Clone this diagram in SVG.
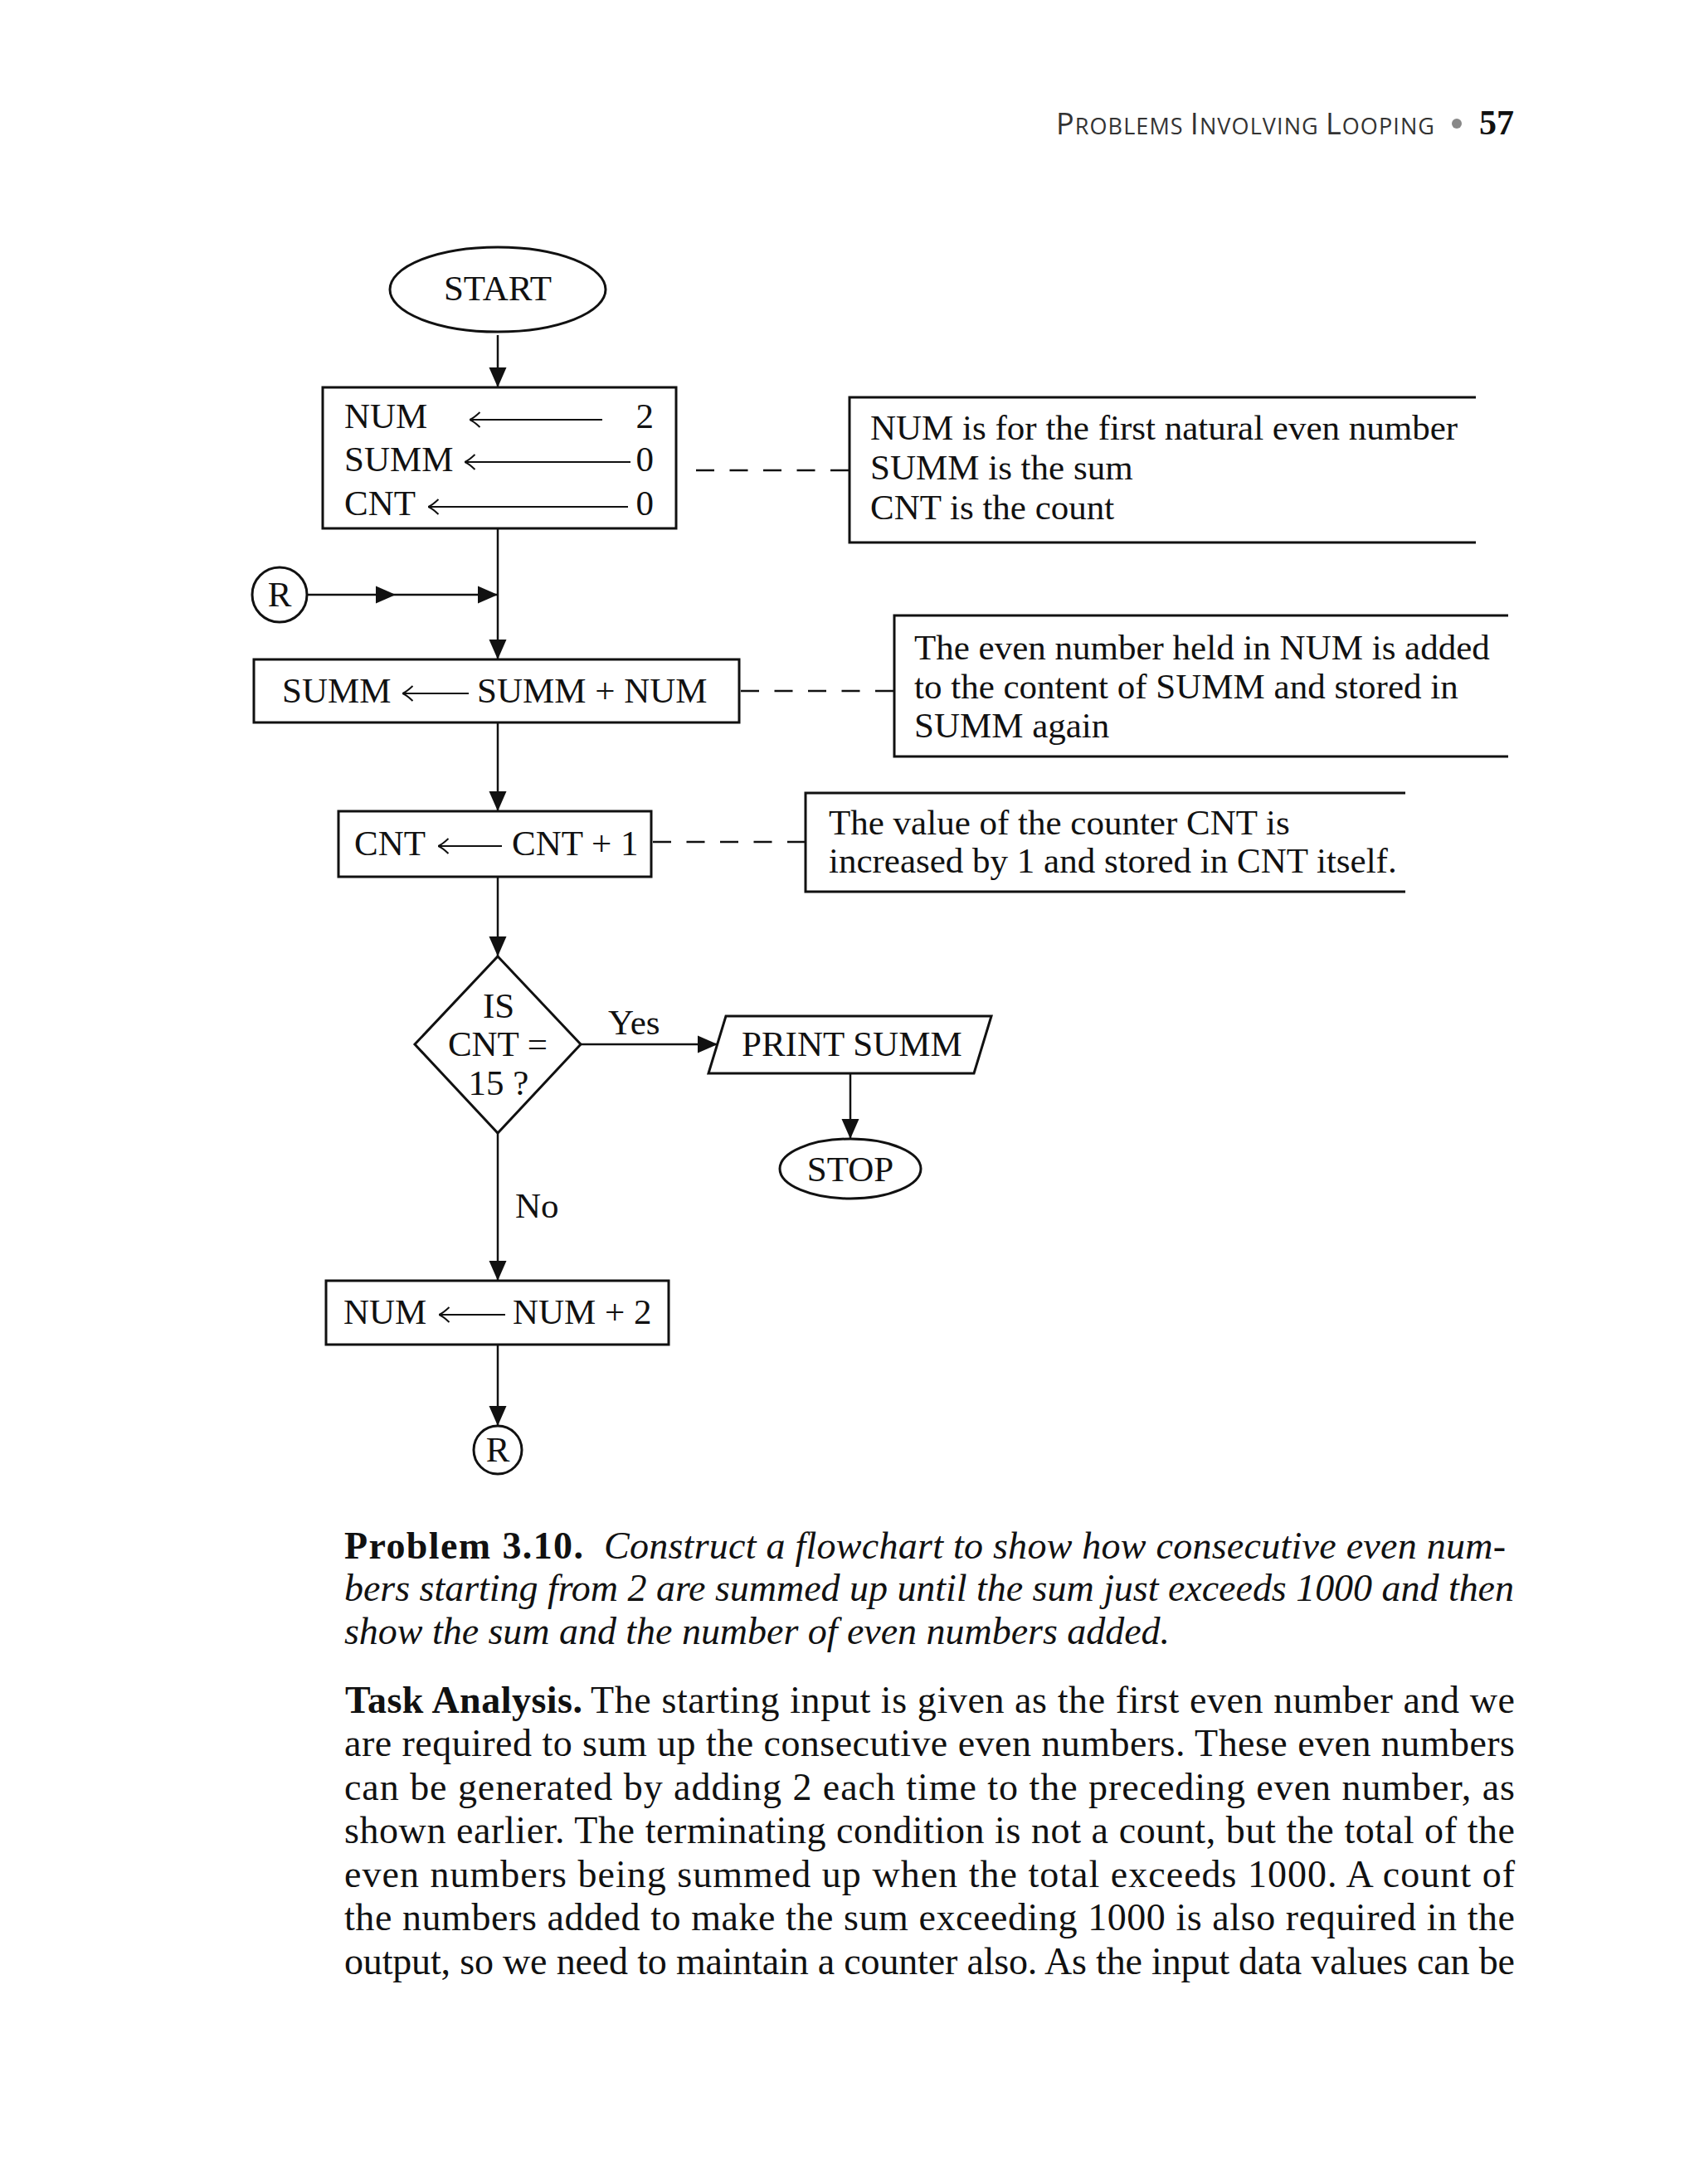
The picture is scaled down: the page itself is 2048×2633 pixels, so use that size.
<svg xmlns="http://www.w3.org/2000/svg" width="2048" height="2633" viewBox="0 0 2048 2633">
<style>
.ln{stroke:#111;stroke-width:2.5;fill:none}
.box{fill:#fff;stroke:#111;stroke-width:3}
.note{fill:none;stroke:#111;stroke-width:3}
.dash{stroke:#111;stroke-width:2.5;fill:none;stroke-dasharray:22 18.5}
.asg{stroke:#111;stroke-width:2;fill:none}
.t{font-family:"Liberation Serif",serif;font-size:43px;fill:#111}
.c{text-anchor:middle}
.e{text-anchor:end}
.body{font-family:"Liberation Serif",serif;font-size:46px;fill:#111}
.b{font-weight:bold}
.i{font-style:italic}
</style>
<defs>
<marker id="ah" markerUnits="userSpaceOnUse" markerWidth="24" markerHeight="24" viewBox="0 0 24 24" refX="24" refY="12" orient="auto">
<path d="M0,1.5 L24,12 L0,22.5 z" fill="#111"/>
</marker>
<marker id="oa" markerUnits="userSpaceOnUse" markerWidth="14" markerHeight="20" viewBox="0 0 14 20" refX="13.5" refY="10" orient="auto">
<path d="M1,1 Q9,8.5 13.5,10 Q9,11.5 1,19" fill="none" stroke="#111" stroke-width="2"/>
</marker>
</defs>
<rect width="2048" height="2633" fill="#fff"/>

<g id="header">
<text x="1273" y="162" font-family="'Open Sans',sans-serif" fill="#333" textLength="456" lengthAdjust="spacing"><tspan font-size="36">P</tspan><tspan font-size="27">ROBLEMS </tspan><tspan font-size="36">I</tspan><tspan font-size="27">NVOLVING </tspan><tspan font-size="36">L</tspan><tspan font-size="27">OOPING</tspan></text>
<circle cx="1756" cy="149" r="6" fill="#888"/>
<text x="1783" y="162" font-family="'Liberation Serif',serif" font-weight="bold" font-size="42" fill="#111">57</text>
</g>

<g id="connectors">
<path class="ln" d="M600,404 V467" marker-end="url(#ah)"/>
<path class="ln" d="M600,637 V795" marker-end="url(#ah)"/>
<path class="ln" d="M370,717 H477" marker-end="url(#ah)"/>
<path class="ln" d="M477,717 H600" marker-end="url(#ah)"/>
<path class="ln" d="M600,871 V978" marker-end="url(#ah)"/>
<path class="ln" d="M600,1057 V1153" marker-end="url(#ah)"/>
<path class="ln" d="M700,1259 H865" marker-end="url(#ah)"/>
<path class="ln" d="M1025,1294 V1373" marker-end="url(#ah)"/>
<path class="ln" d="M600,1366 V1544" marker-end="url(#ah)"/>
<path class="ln" d="M600,1621 V1719" marker-end="url(#ah)"/>
<path class="dash" d="M839,567 H1024"/>
<path class="dash" d="M893,833 H1078"/>
<path class="dash" d="M787,1015 H971"/>
<text class="t" x="733" y="1247">Yes</text>
<text class="t" x="621" y="1468">No</text>
</g>

<g id="start">
<ellipse class="box" cx="600" cy="349" rx="130" ry="51"/>
<text class="t c" x="600" y="362">START</text>
</g>

<g id="init">
<rect class="box" x="389" y="467" width="426" height="170"/>
<text class="t" x="415" y="516">NUM</text>
<text class="t" x="415" y="568">SUMM</text>
<text class="t" x="415" y="621">CNT</text>
<path class="asg" d="M726,506 H566" marker-end="url(#oa)"/>
<path class="asg" d="M760,557 H560" marker-end="url(#oa)"/>
<path class="asg" d="M757,611 H516" marker-end="url(#oa)"/>
<text class="t e" x="788" y="516">2</text>
<text class="t e" x="788" y="568">0</text>
<text class="t e" x="788" y="621">0</text>
</g>

<g id="note1">
<path class="note" d="M1779,479 H1024 V654 H1779"/>
<text class="t" x="1049" y="530">NUM is for the first natural even number</text>
<text class="t" x="1049" y="578">SUMM is the sum</text>
<text class="t" x="1049" y="626">CNT is the count</text>
</g>

<g id="r-in">
<circle class="box" cx="337" cy="717" r="33"/>
<text class="t c" x="337" y="731" font-size="38">R</text>
</g>

<g id="summ">
<rect class="box" x="306" y="795" width="585" height="76"/>
<text class="t" x="340" y="847">SUMM</text>
<path class="asg" d="M565,836 H485" marker-end="url(#oa)"/>
<text class="t" x="575" y="847">SUMM + NUM</text>
</g>

<g id="note2">
<path class="note" d="M1818,742 H1078 V912 H1818"/>
<text class="t" x="1102" y="795">The even number held in NUM is added</text>
<text class="t" x="1102" y="842">to the content of SUMM and stored in</text>
<text class="t" x="1102" y="889">SUMM again</text>
</g>

<g id="cnt">
<rect class="box" x="408" y="978" width="377" height="79"/>
<text class="t" x="427" y="1031">CNT</text>
<path class="asg" d="M605,1020 H528" marker-end="url(#oa)"/>
<text class="t" x="617" y="1031">CNT + 1</text>
</g>

<g id="note3">
<path class="note" d="M1694,956 H971 V1075 H1694"/>
<text class="t" x="999" y="1006">The value of the counter CNT is</text>
<text class="t" x="999" y="1052">increased by 1 and stored in CNT itself.</text>
</g>

<g id="decision">
<polygon class="box" points="600,1153 700,1259 600,1366 500,1259"/>
<text class="t c" x="601" y="1227">IS</text>
<text class="t c" x="600" y="1273">CNT =</text>
<text class="t c" x="601" y="1320">15 ?</text>
</g>

<g id="print">
<polygon class="box" points="875,1225 1195,1225 1174,1294 854,1294"/>
<text class="t" x="894" y="1273">PRINT SUMM</text>
</g>

<g id="stop">
<ellipse class="box" cx="1025" cy="1409" rx="85" ry="36"/>
<text class="t c" x="1025" y="1424">STOP</text>
</g>

<g id="num">
<rect class="box" x="393" y="1544" width="413" height="77"/>
<text class="t" x="414" y="1596">NUM</text>
<path class="asg" d="M609,1585 H529" marker-end="url(#oa)"/>
<text class="t" x="618" y="1596">NUM + 2</text>
</g>

<g id="r-out">
<circle class="box" cx="600" cy="1748" r="29"/>
<text class="t c" x="600" y="1762" font-size="38">R</text>
</g>

<g id="problem">
<text class="body b" x="415" y="1879" textLength="288" lengthAdjust="spacing">Problem 3.10.</text>
<text class="body i" x="728" y="1879" textLength="1087" lengthAdjust="spacing">Construct a flowchart to show how consecutive even num-</text>
<text class="body i" x="415" y="1930" textLength="1410" lengthAdjust="spacing">bers starting from 2 are summed up until the sum just exceeds 1000 and then</text>
<text class="body i" x="415" y="1982" textLength="995" lengthAdjust="spacing">show the sum and the number of even numbers added.</text>
</g>

<g id="analysis">
<text class="body b" x="416" y="2065" textLength="286" lengthAdjust="spacing">Task Analysis.</text>
<text class="body" x="712" y="2065" textLength="1114" lengthAdjust="spacing">The starting input is given as the first even number and we</text>
<text class="body" x="415" y="2117" textLength="1411" lengthAdjust="spacing">are required to sum up the consecutive even numbers. These even numbers</text>
<text class="body" x="415" y="2170" textLength="1411" lengthAdjust="spacing">can be generated by adding 2 each time to the preceding even number, as</text>
<text class="body" x="415" y="2222" textLength="1411" lengthAdjust="spacing">shown earlier. The terminating condition is not a count, but the total of the</text>
<text class="body" x="415" y="2275" textLength="1411" lengthAdjust="spacing">even numbers being summed up when the total exceeds 1000. A count of</text>
<text class="body" x="415" y="2327" textLength="1411" lengthAdjust="spacing">the numbers added to make the sum exceeding 1000 is also required in the</text>
<text class="body" x="415" y="2380" textLength="1411" lengthAdjust="spacing">output, so we need to maintain a counter also. As the input data values can be</text>
</g>
</svg>
